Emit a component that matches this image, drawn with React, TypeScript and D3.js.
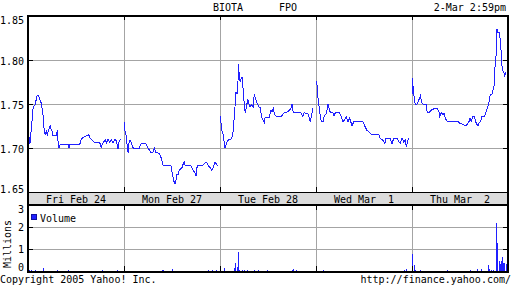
import React from "react";
import * as d3 from "d3";

const titleName = "BIOTA";
const titleCode = "FPO";
const titleTime = "2-Mar 2:59pm";
const dayLabels = ["Fri Feb 24", "Mon Feb 27", "Tue Feb 28", "Wed Mar  1", "Thu Mar  2"];
const priceTicks = [1.65, 1.7, 1.75, 1.8, 1.85];
const volumeTicks = [0, 1, 2, 3];
const dayMinutes = 384;

// [minute since 10:00, price]
const priceDay1 = [[0,1.719],[8,1.705],[21,1.747],[28,1.749],[37,1.760],[40,1.760],[44,1.758],[53,1.751],[60,1.738],[64,1.723],[69,1.715],[73,1.719],[77,1.715],[83,1.721],[89,1.725],[93,1.721],[96,1.719],[100,1.714],[113,1.714],[117,1.720],[120,1.708],[124,1.700],[129,1.704],[163,1.704],[164,1.700],[168,1.704],[207,1.704],[213,1.710],[220,1.712],[233,1.714],[243,1.715],[247,1.712],[260,1.708],[267,1.706],[287,1.706],[293,1.701],[300,1.706],[309,1.709],[314,1.706],[320,1.710],[327,1.706],[333,1.710],[340,1.706],[349,1.710],[353,1.708],[360,1.699],[363,1.706],[369,1.710]];
const priceDay2 = [[0,1.730],[4,1.719],[8,1.715],[13,1.702],[17,1.694],[21,1.709],[27,1.708],[31,1.704],[37,1.700],[61,1.700],[67,1.704],[71,1.705],[88,1.705],[95,1.700],[101,1.698],[107,1.695],[115,1.695],[121,1.700],[127,1.695],[141,1.694],[147,1.690],[151,1.687],[155,1.681],[157,1.680],[188,1.680],[191,1.675],[195,1.668],[200,1.662],[204,1.659],[208,1.664],[211,1.670],[217,1.670],[221,1.675],[231,1.677],[237,1.682],[241,1.684],[245,1.680],[268,1.680],[275,1.675],[284,1.672],[288,1.668],[293,1.680],[315,1.680],[324,1.683],[331,1.684],[337,1.680],[344,1.678],[351,1.675],[357,1.678],[364,1.684],[371,1.681],[375,1.680]];
const priceDay3 = [[0,1.736],[4,1.728],[8,1.719],[13,1.715],[20,1.700],[27,1.706],[35,1.710],[37,1.709],[47,1.711],[53,1.719],[60,1.747],[64,1.764],[68,1.761],[71,1.770],[75,1.795],[77,1.778],[81,1.776],[85,1.779],[88,1.781],[91,1.772],[95,1.757],[99,1.744],[101,1.740],[107,1.749],[111,1.755],[115,1.751],[120,1.747],[127,1.749],[133,1.747],[137,1.761],[141,1.757],[144,1.755],[148,1.751],[155,1.747],[160,1.746],[164,1.740],[168,1.734],[173,1.731],[177,1.729],[181,1.735],[197,1.735],[204,1.743],[208,1.741],[213,1.745],[217,1.739],[224,1.736],[244,1.736],[251,1.738],[257,1.740],[271,1.741],[277,1.743],[284,1.745],[288,1.750],[293,1.740],[324,1.740],[331,1.736],[337,1.740],[351,1.739],[357,1.735],[361,1.730],[367,1.738],[371,1.745]];
const priceDay4 = [[0,1.776],[4,1.772],[8,1.757],[13,1.745],[17,1.736],[21,1.730],[28,1.730],[33,1.736],[40,1.739],[44,1.743],[48,1.750],[51,1.747],[55,1.742],[61,1.740],[68,1.740],[72,1.736],[77,1.740],[93,1.740],[101,1.736],[108,1.730],[115,1.732],[121,1.735],[128,1.730],[135,1.734],[141,1.728],[144,1.725],[151,1.730],[187,1.730],[195,1.725],[204,1.720],[213,1.718],[224,1.715],[251,1.715],[257,1.711],[271,1.708],[275,1.705],[280,1.711],[297,1.711],[304,1.705],[311,1.711],[324,1.711],[331,1.707],[337,1.705],[344,1.711],[351,1.707],[357,1.709],[361,1.701],[367,1.708],[371,1.711]];
const priceDay5 = [[0,1.782],[1,1.761],[5,1.770],[8,1.759],[13,1.749],[17,1.749],[21,1.750],[27,1.755],[31,1.756],[35,1.761],[37,1.752],[44,1.750],[57,1.750],[61,1.740],[67,1.740],[77,1.743],[91,1.745],[101,1.745],[107,1.742],[111,1.736],[117,1.740],[124,1.738],[128,1.740],[133,1.734],[141,1.730],[184,1.730],[191,1.728],[204,1.727],[213,1.725],[221,1.727],[228,1.730],[232,1.734],[237,1.730],[244,1.736],[248,1.736],[253,1.732],[257,1.728],[264,1.725],[268,1.728],[275,1.731],[280,1.736],[291,1.736],[297,1.742],[301,1.745],[307,1.750],[313,1.761],[320,1.761],[328,1.770],[331,1.789],[337,1.808],[340,1.835],[344,1.831],[348,1.832],[353,1.823],[357,1.808],[361,1.789],[368,1.785],[371,1.782],[375,1.786]];
const priceDays = [priceDay1, priceDay2, priceDay3, priceDay4, priceDay5];

// [minute since 10:00, volume in millions]
const volDay1 = [[4,0.06],[13,0.05],[29,0.05],[61,0.14],[117,0.05],[161,0.05],[296,0.05],[357,0.05]];
const volDay2 = [[1,0.17],[153,0.05],[157,0.05],[193,0.1],[337,0.05],[353,0.05],[369,0.05]];
const volDay3 = [[1,0.18],[17,0.14],[59,0.14],[63,0.36],[69,0.17],[73,0.86],[77,0.06],[89,0.05],[99,0.05],[109,0.05],[139,0.05],[155,0.05],[189,0.05],[289,0.06],[293,0.1],[305,0.05]];
const volDay4 = [[1,0.18],[29,0.05],[352,0.06],[361,0.1]];
const volDay5 = [[1,0.77],[9,0.27],[15,0.06],[33,0.05],[141,0.05],[233,0.05],[261,0.1],[277,0.1],[305,0.27],[309,0.1],[317,0.05],[325,0.05],[339,2.2],[343,1.28],[351,0.45],[355,0.3],[359,0.45],[363,0.63],[367,0.35],[371,0.38],[376,0.33]];
const volDays = [volDay1, volDay2, volDay3, volDay4, volDay5];

const W = 512, H = 288;
const L = 28, R = 508;
const pTop = 16, pBot = 192, vTop = 205, vBot = 271;
const blue = "#2020ff";
const grid = "#a4a4a4";
const font = "DejaVu Sans Mono, monospace";

export default function App() {
  const x = d3.scaleLinear().domain([0, dayMinutes * 5]).range([L, R]);
  const y = d3.scaleLinear().domain([1.65, 1.85]).range([pBot, pTop]);
  const yv = d3.scaleLinear().domain([0, 3]).range([vBot, vTop]);
  const line = d3.line<number[]>().x((d) => x(d[0])).y((d) => y(d[1]));
  const dayStarts = d3.range(1, 5).map((i) => x(i * dayMinutes));
  const ts = { fontFamily: font, fontSize: 10, fill: "#000" } as const;
  const clamp = (v: number, lo: number, hi: number) => Math.max(lo, Math.min(hi, v));

  return (
    <svg width={W} height={H} style={{ position: "absolute", left: 0, top: 0, background: "#fff" }}>
      <rect x={0} y={0} width={W} height={H} fill="#fff" />
      {/* title */}
      <text x={213} y={11} {...ts}>{titleName}</text>
      <text x={279} y={11} {...ts}>{titleCode}</text>
      <text x={506} y={11} textAnchor="end" {...ts}>{titleTime}</text>

      {/* date band */}
      <rect x={L} y={pBot} width={R - L} height={vTop - pBot} fill="#dcdcdc" />

      <g shapeRendering="crispEdges">
        {/* price gridlines */}
        {priceTicks.slice(1, -1).map((v) => (
          <line key={"pg" + v} x1={L} x2={R} y1={Math.round(y(v)) + 0.5} y2={Math.round(y(v)) + 0.5} stroke={grid} />
        ))}
        {dayStarts.map((px, i) => (
          <g key={"dg" + i}>
            <line x1={Math.round(px) + 0.5} x2={Math.round(px) + 0.5} y1={pTop} y2={pBot} stroke={grid} />
            <line x1={Math.round(px) + 0.5} x2={Math.round(px) + 0.5} y1={vTop} y2={vBot} stroke={grid} />
          </g>
        ))}
        {volumeTicks.slice(1, -1).map((v) => (
          <line key={"vg" + v} x1={L} x2={R} y1={Math.round(yv(v)) + 0.5} y2={Math.round(yv(v)) + 0.5} stroke={grid} />
        ))}
      </g>

      {/* volume bars */}
      <g shapeRendering="crispEdges">
        {volDays.map((arr, di) =>
          arr.map((d, j) => (
            <rect key={di + "-" + j} x={Math.floor(x(di * dayMinutes + d[0]))} y={yv(d[1])} width={1} height={vBot - yv(d[1])} fill={blue} />
          ))
        )}
      </g>

      {/* price lines */}
      {priceDays.map((arr, di) => (
        <path key={"pl" + di} d={line(arr.map((d) => [di * dayMinutes + d[0], d[1]])) || ""} fill="none" stroke={blue} strokeWidth={1} shapeRendering="crispEdges" />
      ))}

      <g shapeRendering="crispEdges" stroke="#000">
        {/* ticks */}
        {priceTicks.slice(1, -1).map((v) => (
          <g key={"pt" + v}>
            <line x1={L} x2={L + 5} y1={Math.round(y(v)) + 0.5} y2={Math.round(y(v)) + 0.5} />
            <line x1={R - 5} x2={R} y1={Math.round(y(v)) + 0.5} y2={Math.round(y(v)) + 0.5} />
          </g>
        ))}
        {volumeTicks.slice(1, -1).map((v) => (
          <g key={"vt" + v}>
            <line x1={L} x2={L + 5} y1={Math.round(yv(v)) + 0.5} y2={Math.round(yv(v)) + 0.5} />
            <line x1={R - 5} x2={R} y1={Math.round(yv(v)) + 0.5} y2={Math.round(yv(v)) + 0.5} />
          </g>
        ))}
        {dayStarts.map((px, i) => {
          const xx = Math.round(px) + 0.5;
          return (
            <g key={"dt" + i}>
              <line x1={xx} x2={xx} y1={pTop - 1} y2={pTop + 4} />
              <line x1={xx} x2={xx} y1={pBot - 5} y2={pBot} />
              <line x1={xx} x2={xx} y1={vTop} y2={vTop + 5} />
              <line x1={xx} x2={xx} y1={vBot - 5} y2={vBot} />
            </g>
          );
        })}
        {/* frame */}
        <line x1={L - 1} x2={R + 1} y1={pTop - 0.5} y2={pTop - 0.5} strokeWidth={2} />
        <line x1={L - 1} x2={R + 1} y1={pBot + 0.5} y2={pBot + 0.5} strokeWidth={1} />
        <line x1={L - 1} x2={R + 1} y1={vTop} y2={vTop} strokeWidth={2} />
        <line x1={L - 1} x2={R + 1} y1={vBot + 0.5} y2={vBot + 0.5} strokeWidth={2} />
        <line x1={L} x2={L} y1={pTop - 1.5} y2={vBot + 1.5} strokeWidth={2} />
        <line x1={R} x2={R} y1={pTop - 1.5} y2={vBot + 1.5} strokeWidth={2} />
      </g>

      {/* price axis labels */}
      {priceTicks.map((v) => (
        <text key={"pl" + v} x={24} y={clamp(y(v) + 4.5, pTop + 8, pBot + 1)} textAnchor="end" {...ts}>{v.toFixed(2)}</text>
      ))}
      {/* volume axis labels */}
      {volumeTicks.map((v) => (
        <text key={"vl" + v} x={24} y={clamp(yv(v) + 3.5, vTop + 8, vBot)} textAnchor="end" {...ts}>{String(v)}</text>
      ))}
      <text transform={`translate(10.5,${(vTop + vBot) / 2 + 6}) rotate(-90)`} textAnchor="middle" {...ts}>Millions</text>

      {/* day labels */}
      {dayLabels.map((lab, i) => (
        <text key={"dl" + i} x={x(i * dayMinutes + dayMinutes / 2)} y={203} textAnchor="middle" {...ts} style={{ whiteSpace: "pre" }}>{lab}</text>
      ))}

      {/* legend */}
      <rect x={31.5} y={214.5} width={5} height={5} fill={blue} stroke="#1010a0" shapeRendering="crispEdges" />
      <text x={40} y={222} {...ts}>Volume</text>

      {/* footer */}
      <text x={0} y={283} {...ts}>Copyright 2005 Yahoo! Inc.</text>
      <text x={511} y={283} textAnchor="end" {...ts}>http://finance.yahoo.com/</text>
    </svg>
  );
}
